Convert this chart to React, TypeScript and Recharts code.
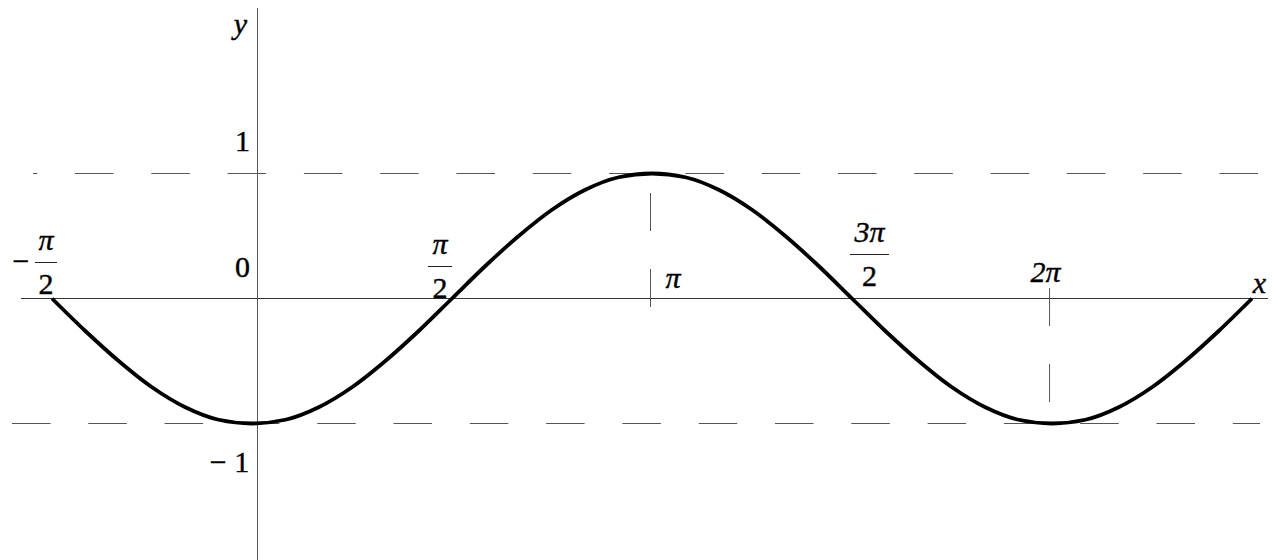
import { LineChart, Line, XAxis, YAxis, ReferenceLine, ReferenceDot } from "recharts";

// x in degrees, y
const xDeg = [
  -90, -75, -60, -45, -30, -15, 0, 15, 30, 45, 60, 75, 90, 105, 120, 135, 150, 165, 180,
  195, 210, 225, 240, 255, 270, 285, 300, 315, 330, 345, 360, 375, 390, 405, 420, 435, 450,
];
const yVals = [
  0, -0.26, -0.5, -0.71, -0.87, -0.97, -1, -0.97, -0.87, -0.71, -0.5, -0.26, 0, 0.26, 0.5,
  0.71, 0.87, 0.97, 1, 0.97, 0.87, 0.71, 0.5, 0.26, 0, -0.26, -0.5, -0.71, -0.87, -0.97, -1,
  -0.97, -0.87, -0.71, -0.5, -0.26, 0,
];

// guide levels and where the drawn axes / tick marks sit
const levels = [1, -1];
const yAxisAt = 2.475;
const piTickAt = 179.33;
const twoPiTickAt = 358.9;

const fracLabels = [
  { at: -90, sign: "−", num: "π", den: "2" },
  { at: 90, sign: "", num: "π", den: "2" },
  { at: 270, sign: "", num: "3π", den: "2" },
];
const plainLabels = [
  { at: 180, text: "π" },
  { at: 360, text: "2π" },
];
const yLabelValues = [1, 0, -1];
const yLabels = ["1", "0", "− 1"];

const data = xDeg.map((x, i) => ({ x, y: yVals[i] }));

const FONT = "Times New Roman, Liberation Serif, Tinos, DejaVu Serif, serif";

const TeXt = (props: any) => {
  const { italic, children, ...rest } = props;
  return (
    <text
      {...rest}
      fontFamily={FONT}
      fontSize={30}
      fontStyle={italic ? "italic" : "normal"}
      fill="#000"
      stroke="#000"
      strokeWidth={0.4}
    >
      {children}
    </text>
  );
};

const GRAY = "#555";

const fracShape: Record<number, { dx: number; dy: number; w: number }> = {
  [-90]: { dx: -6, dy: -36.5, w: 22 },
  [90]: { dx: -12, dy: -32.5, w: 24 },
  [270]: { dx: 17.5, dy: -44.5, w: 39 },
};

const App = () => {
  return (
    <div style={{ position: "absolute", left: 0, top: 0, background: "#fff", fontFamily: FONT }}>
      <LineChart width={1272} height={560} data={data} margin={{ top: 0, right: 0, bottom: 0, left: 0 }}>
        <XAxis type="number" dataKey="x" domain={[-113.4, 459]} hide allowDataOverflow />
        <YAxis type="number" domain={[-2.092, 2.388]} hide allowDataOverflow />

        {/* horizontal axis */}
        <ReferenceLine
          segment={[{ x: -103.95, y: 0 }, { x: 457.2, y: 0 }]}
          stroke="#333"
          strokeWidth={1}
          ifOverflow="visible"
        />
        {/* vertical axis */}
        <ReferenceLine
          segment={[{ x: yAxisAt, y: 2.324 }, { x: yAxisAt, y: -2.2 }]}
          stroke="#555"
          strokeWidth={1}
          ifOverflow="visible"
        />
        {/* dashed guides at y = 1 and y = -1 */}
        <ReferenceLine
          segment={[{ x: 452.7, y: levels[0] }, { x: -98.55, y: levels[0] }]}
          stroke={GRAY}
          strokeDasharray="38.5 37.8"
          ifOverflow="visible"
        />
        <ReferenceLine
          segment={[{ x: -108, y: levels[1] }, { x: 453.6, y: levels[1] }]}
          stroke={GRAY}
          strokeDasharray="38.5 37.8"
          ifOverflow="visible"
        />
        {/* dashed tick marks at pi and 2pi */}
        <ReferenceLine
          segment={[{ x: piTickAt, y: -0.068 }, { x: piTickAt, y: levels[0] }]}
          stroke={GRAY}
          strokeDasharray="38 38"
          ifOverflow="visible"
        />
        <ReferenceLine
          segment={[{ x: twoPiTickAt, y: 0.084 }, { x: twoPiTickAt, y: levels[1] }]}
          stroke={GRAY}
          strokeDasharray="38 38"
          ifOverflow="visible"
        />

        <Line
          type="monotone"
          dataKey="y"
          stroke="#000"
          strokeWidth={3.8}
          dot={false}
          activeDot={false}
          isAnimationActive={false}
        />

        {fracLabels.map((l) => {
          const s = fracShape[l.at];
          return (
            <ReferenceDot
              key={"f" + l.at}
              x={l.at}
              y={0}
              ifOverflow="visible"
              shape={(p: any) => {
                const cx = p.cx + s.dx;
                const by = p.cy + s.dy;
                return (
                  <g>
                    {l.sign && (
                      <TeXt x={cx - s.w / 2 - 14} y={by + 9} textAnchor="middle">
                        {l.sign}
                      </TeXt>
                    )}
                    <TeXt x={cx} y={by - 12} textAnchor="middle" italic>
                      {l.num}
                    </TeXt>
                    <line x1={cx - s.w / 2} x2={cx + s.w / 2} y1={by + 0.5} y2={by + 0.5} stroke="#222" strokeWidth={1} />
                    <TeXt x={cx} y={by + 32} textAnchor="middle">
                      {l.den}
                    </TeXt>
                  </g>
                );
              }}
            />
          );
        })}

        {plainLabels.map((l, i) => (
          <ReferenceDot
            key={"p" + l.at}
            x={l.at}
            y={0}
            ifOverflow="visible"
            shape={(p: any) => (
              <TeXt
                x={p.cx + (i === 0 ? 21 : -6.5)}
                y={p.cy + (i === 0 ? -10.5 : -16.5)}
                textAnchor="middle"
                italic
              >
                {l.text}
              </TeXt>
            )}
          />
        ))}

        {yLabels.map((t, i) => {
          const dy = [-23, -21.5, 48][i];
          const dx = [-15, -15, -28][i];
          return (
            <ReferenceDot
              key={"y" + i}
              x={yAxisAt}
              y={yLabelValues[i]}
              ifOverflow="visible"
              shape={(p: any) => (
                <TeXt x={p.cx + dx} y={p.cy + dy} textAnchor="middle">
                  {t}
                </TeXt>
              )}
            />
          );
        })}

        {/* axis names */}
        <ReferenceDot
          x={yAxisAt}
          y={2.324}
          ifOverflow="visible"
          shape={(p: any) => (
            <TeXt x={p.cx - 17} y={p.cy + 26} textAnchor="middle" italic>
              y
            </TeXt>
          )}
        />
        <ReferenceDot
          x={457.2}
          y={0}
          ifOverflow="visible"
          shape={(p: any) => (
            <TeXt x={p.cx - 8.5} y={p.cy - 5.5} textAnchor="middle" italic>
              x
            </TeXt>
          )}
        />
      </LineChart>
    </div>
  );
};

export default App;
